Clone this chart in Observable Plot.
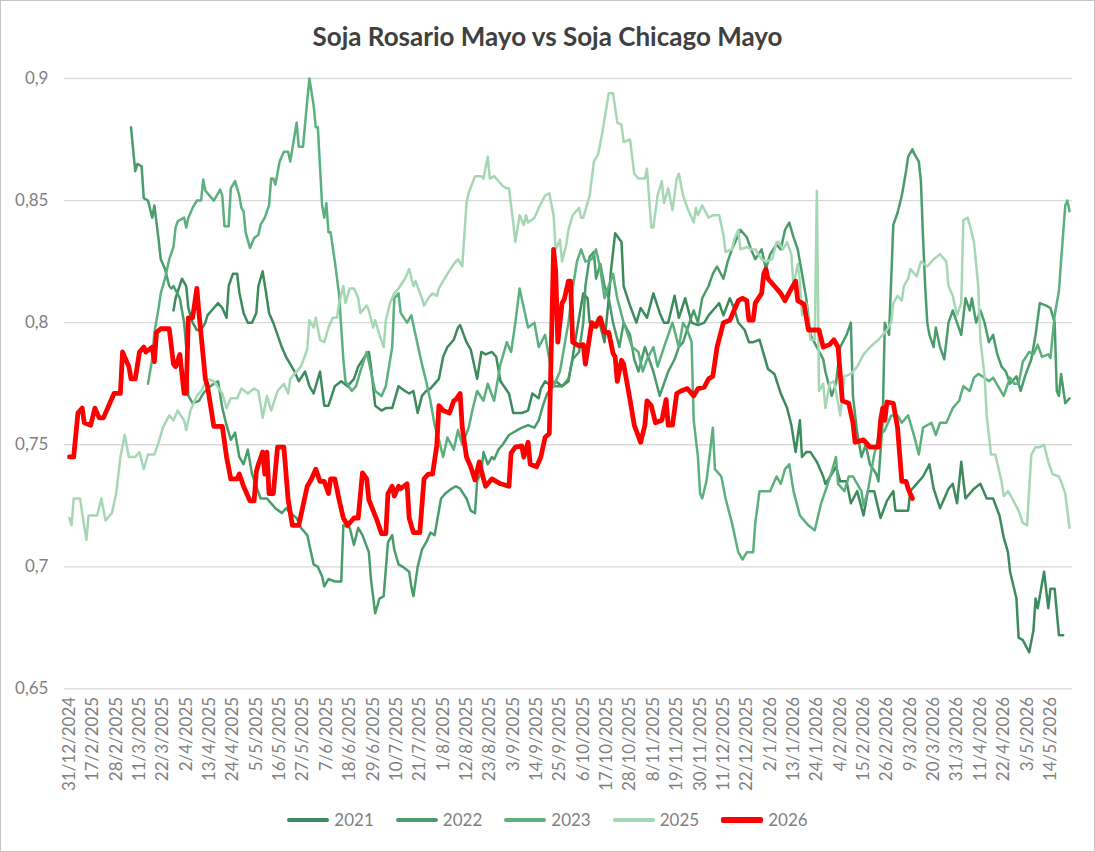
<!DOCTYPE html>
<html>
<head>
<meta charset="utf-8">
<script src="https://cdn.jsdelivr.net/npm/d3@7"></script>
<script src="https://cdn.jsdelivr.net/npm/@observablehq/plot@0.6"></script>
<style>
  html, body { margin: 0; padding: 0; background: #fff; }
  #wrap { position: relative; width: 1095px; height: 852px; box-sizing: border-box; border: 1px solid #c4c4c4; background: #fff; font-family: Lato, "Open Sans", sans-serif; overflow: hidden; }
  #title { position: absolute; top: 19px; left: 0; width: 100%; text-align: center; font-size: 26px; font-weight: bold; color: #404040; }
  #chart { position: absolute; top: 59px; left: -1px; }
  #legend { position: absolute; top: 808px; left: 0; width: 100%; display: flex; justify-content: center; gap: 22px; font-size: 17px; color: #7f7f7f; }
  .item { display: flex; align-items: center; gap: 5px; }
  .sw { width: 42px; height: 4px; border-radius: 2px; }
</style>
</head>
<body>
<div id="wrap">
  <div id="title">Soja Rosario Mayo vs Soja Chicago Mayo</div>
  <div id="chart"></div>
  <div id="legend"></div>
</div>
<script>
// Category-axis labels (one label every 11 categories)
const tickLabels = ["31/12/2024","17/2/2025","28/2/2025","11/3/2025","22/3/2025","2/4/2025","13/4/2025","24/4/2025","5/5/2025","16/5/2025","27/5/2025","7/6/2025","18/6/2025","29/6/2025","10/7/2025","21/7/2025","1/8/2025","12/8/2025","23/8/2025","3/9/2025","14/9/2025","25/9/2025","6/10/2025","17/10/2025","28/10/2025","8/11/2025","19/11/2025","30/11/2025","11/12/2025","22/12/2025","2/1/2026","13/1/2026","24/1/2026","4/2/2026","15/2/2026","26/2/2026","9/3/2026","20/3/2026","31/3/2026","11/4/2026","22/4/2026","3/5/2026","14/5/2026"];
const labelInterval = 11;
const yTicks = [0.65, 0.7, 0.75, 0.8, 0.85, 0.9];
const seriesNames = ["2021", "2022", "2023", "2025", "2026"];

// [category index, ratio]
const s2021 = [[49,0.805],[50,0.810],[53,0.818],[55,0.815],[56,0.806],[58,0.800],[60,0.797],[62,0.797],[64,0.800],[65,0.803],[68,0.806],[70,0.808],[72,0.806],[74,0.802],[75,0.815],[77,0.820],[79,0.820],[80,0.8125],[82,0.804],[84,0.800],[86,0.800],[88,0.804],[89,0.815],[91,0.821],[93,0.810],[94,0.804],[96,0.800],[98,0.795],[100,0.790],[102,0.786],[104,0.783],[106,0.780],[108,0.776],[111,0.780],[113,0.774],[115,0.771],[118,0.780],[120,0.766],[122,0.766],[125,0.774],[128,0.776],[131,0.774],[134,0.777],[136,0.782],[139,0.786],[141,0.788],[142,0.782],[144,0.766],[147,0.764],[149,0.765],[152,0.765],[153,0.768],[155,0.774],[158,0.772],[160,0.771],[162,0.772],[164,0.763],[166,0.770],[168,0.772],[170,0.773],[174,0.777],[176,0.786],[178,0.790],[181,0.793],[183,0.798],[184,0.799],[187,0.792],[189,0.789],[192,0.777],[194,0.788],[196,0.787],[199,0.788],[201,0.786],[203,0.776],[207,0.771],[209,0.763],[213,0.763],[216,0.764],[218,0.771],[221,0.769],[222,0.773],[224,0.776],[227,0.774],[229,0.776],[232,0.774],[235,0.776],[237,0.786],[240,0.802],[242,0.812],[244,0.810],[245,0.800],[247,0.798],[249,0.802],[252,0.792],[254,0.810],[255,0.821],[257,0.8366],[260,0.833],[261,0.815],[264,0.807],[267,0.800],[269,0.806],[272,0.802],[275,0.812],[278,0.804],[280,0.800],[282,0.800],[285,0.811],[287,0.802],[290,0.810],[293,0.800],[296,0.799],[299,0.800],[301,0.803],[304,0.806],[306,0.808],[308,0.803],[311,0.810],[313,0.806],[315,0.800],[318,0.797],[320,0.792],[322,0.792],[325,0.793],[327,0.787],[329,0.781],[332,0.779],[335,0.771],[338,0.765],[340,0.758],[342,0.747],[344,0.760],[345,0.745],[347,0.747],[349,0.747],[352,0.743],[355,0.737],[356,0.734],[359,0.738],[361,0.741],[363,0.735],[366,0.735],[368,0.726],[371,0.731],[374,0.721],[376,0.731],[379,0.731],[382,0.720],[385,0.727],[388,0.731],[389,0.723],[392,0.723],[395,0.723],[396,0.731],[400,0.735],[402,0.737],[405,0.742],[407,0.732],[410,0.724],[414,0.732],[416,0.734],[418,0.726],[420,0.743],[422,0.728],[426,0.732],[429,0.734],[432,0.728],[435,0.728],[438,0.721],[440,0.712],[442,0.706],[443,0.698],[446,0.687],[447,0.671],[449,0.670],[452,0.665],[454,0.674],[455,0.687],[456,0.683],[459,0.698],[461,0.683],[462,0.691],[464,0.691],[466,0.672],[468,0.672]];

const s2022 = [[29,0.880],[31,0.862],[32,0.865],[34,0.864],[35,0.851],[37,0.850],[39,0.843],[40,0.848],[42,0.834],[43,0.826],[45,0.822],[47,0.815],[48,0.814],[49,0.815],[52,0.810],[54,0.800],[55,0.790],[56,0.770],[58,0.767],[61,0.768],[63,0.771],[65,0.773],[68,0.775],[70,0.776],[72,0.765],[74,0.758],[76,0.752],[78,0.755],[80,0.745],[82,0.742],[84,0.748],[86,0.738],[88,0.733],[90,0.728],[93,0.728],[95,0.726],[97,0.724],[100,0.722],[102,0.724],[104,0.722],[107,0.720],[109,0.716],[112,0.713],[114,0.705],[115,0.701],[117,0.700],[119,0.696],[120,0.692],[122,0.695],[125,0.694],[128,0.694],[129,0.717],[132,0.716],[134,0.709],[136,0.716],[138,0.713],[141,0.706],[142,0.695],[144,0.681],[146,0.687],[148,0.688],[150,0.710],[152,0.713],[153,0.707],[155,0.701],[157,0.700],[160,0.698],[161,0.692],[162,0.688],[164,0.700],[166,0.707],[168,0.710],[170,0.714],[172,0.713],[174,0.723],[175,0.728],[177,0.730],[180,0.732],[182,0.733],[184,0.732],[187,0.728],[189,0.723],[191,0.722],[192,0.735],[194,0.739],[195,0.747],[197,0.742],[199,0.745],[200,0.744],[202,0.748],[204,0.750],[207,0.754],[209,0.755],[213,0.757],[216,0.758],[219,0.757],[221,0.760],[223,0.766],[225,0.771],[228,0.774],[232,0.774],[235,0.777],[237,0.785],[240,0.788],[242,0.800],[243,0.815],[245,0.827],[247,0.829],[248,0.818],[250,0.824],[252,0.815],[254,0.810],[256,0.800],[259,0.790],[261,0.800],[264,0.795],[266,0.785],[268,0.780],[271,0.790],[273,0.785],[275,0.780],[278,0.770],[280,0.775],[282,0.780],[285,0.785],[287,0.790],[289,0.792],[292,0.800],[294,0.805],[296,0.800],[298,0.810],[301,0.815],[303,0.820],[305,0.823],[308,0.818],[310,0.825],[312,0.830],[316,0.838],[319,0.835],[321,0.830],[323,0.826],[326,0.830],[328,0.822],[330,0.828],[333,0.832],[335,0.830],[337,0.838],[339,0.841],[341,0.835],[343,0.830],[345,0.820],[347,0.810],[349,0.795],[352,0.790],[355,0.785],[356,0.780],[359,0.770],[361,0.775],[363,0.790],[366,0.795],[368,0.800],[369,0.770],[371,0.755],[373,0.745],[375,0.750],[377,0.742],[380,0.738],[381,0.735],[383,0.760],[384,0.800],[386,0.795],[388,0.840],[390,0.845],[392,0.852],[394,0.862],[395,0.868],[397,0.871],[398,0.869],[400,0.866],[401,0.858],[402,0.835],[403,0.815],[404,0.800],[405,0.795],[407,0.790],[408,0.798],[410,0.790],[412,0.785],[414,0.800],[416,0.805],[418,0.800],[420,0.795],[422,0.810],[424,0.805],[425,0.810],[427,0.800],[429,0.805],[431,0.800],[433,0.792],[435,0.795],[437,0.787],[439,0.782],[441,0.780],[443,0.775],[446,0.778],[448,0.772],[450,0.778],[453,0.785],[455,0.795],[457,0.808],[460,0.807],[462,0.806],[464,0.800],[465,0.772],[466,0.770],[467,0.779],[469,0.767],[470,0.768],[471,0.769]];

const s2023 = [[37,0.775],[39,0.785],[40,0.796],[42,0.806],[43,0.812],[45,0.818],[47,0.826],[49,0.831],[50,0.839],[51,0.8415],[54,0.843],[55,0.839],[56,0.843],[58,0.847],[60,0.850],[62,0.850],[63,0.8586],[64,0.854],[66,0.852],[68,0.850],[71,0.8545],[72,0.852],[73,0.8395],[75,0.8395],[76,0.855],[78,0.858],[80,0.852],[81,0.847],[82,0.8456],[83,0.837],[85,0.8306],[87,0.8347],[89,0.836],[90,0.840],[92,0.843],[94,0.848],[95,0.859],[96,0.859],[97,0.8566],[99,0.866],[101,0.870],[103,0.870],[104,0.866],[107,0.882],[108,0.872],[110,0.872],[112,0.891],[113,0.900],[115,0.889],[116,0.880],[117,0.880],[119,0.848],[120,0.843],[121,0.849],[122,0.837],[123,0.837],[125,0.825],[127,0.8115],[128,0.798],[129,0.785],[130,0.776],[133,0.772],[135,0.774],[137,0.780],[140,0.788],[142,0.780],[144,0.772],[147,0.770],[149,0.774],[152,0.790],[153,0.810],[155,0.812],[156,0.804],[159,0.800],[161,0.803],[163,0.795],[166,0.783],[168,0.776],[170,0.768],[172,0.758],[174,0.752],[176,0.745],[178,0.753],[181,0.748],[183,0.756],[185,0.750],[188,0.757],[190,0.765],[192,0.772],[195,0.768],[197,0.775],[200,0.768],[203,0.783],[206,0.792],[208,0.788],[210,0.800],[212,0.814],[214,0.806],[216,0.798],[219,0.800],[221,0.790],[224,0.795],[226,0.785],[228,0.774],[231,0.780],[233,0.790],[235,0.800],[237,0.814],[239,0.825],[241,0.830],[243,0.825],[246,0.826],[248,0.830],[250,0.822],[252,0.810],[254,0.815],[256,0.820],[258,0.810],[261,0.800],[263,0.795],[265,0.790],[268,0.788],[270,0.780],[272,0.785],[275,0.790],[277,0.782],[280,0.790],[282,0.795],[284,0.800],[287,0.790],[289,0.800],[291,0.797],[293,0.792],[294,0.760],[296,0.745],[297,0.730],[298,0.728],[300,0.735],[301,0.742],[303,0.757],[304,0.740],[307,0.737],[309,0.728],[312,0.718],[314,0.710],[315,0.706],[317,0.703],[319,0.706],[322,0.706],[323,0.718],[325,0.731],[328,0.731],[330,0.731],[333,0.737],[335,0.734],[337,0.740],[339,0.742],[341,0.731],[344,0.721],[348,0.717],[351,0.715],[354,0.726],[356,0.731],[359,0.739],[361,0.745],[362,0.734],[365,0.731],[367,0.737],[369,0.737],[371,0.734],[373,0.731],[374,0.725],[376,0.731],[379,0.746],[381,0.753],[384,0.756],[387,0.762],[390,0.762],[392,0.759],[395,0.762],[398,0.753],[400,0.746],[402,0.757],[406,0.759],[408,0.754],[410,0.759],[413,0.759],[416,0.765],[419,0.768],[421,0.774],[424,0.772],[426,0.7775],[428,0.779],[431,0.7775],[433,0.776],[435,0.7775],[438,0.773],[440,0.770],[443,0.7775],[445,0.775],[447,0.775],[449,0.784],[452,0.788],[454,0.787],[456,0.791],[458,0.786],[461,0.787],[462,0.7855],[464,0.803],[466,0.813],[467,0.825],[469,0.848],[470,0.850],[471,0.8456]];

const s2025 = [[0,0.720],[1,0.717],[2,0.728],[5,0.728],[6,0.722],[8,0.711],[9,0.721],[13,0.721],[15,0.728],[17,0.719],[20,0.722],[22,0.730],[24,0.745],[26,0.754],[28,0.745],[31,0.745],[33,0.747],[35,0.740],[37,0.746],[40,0.746],[42,0.751],[44,0.757],[47,0.762],[49,0.760],[51,0.764],[54,0.760],[55,0.756],[57,0.764],[60,0.770],[62,0.772],[65,0.777],[68,0.776],[72,0.771],[74,0.765],[76,0.769],[79,0.769],[81,0.773],[84,0.771],[87,0.773],[89,0.772],[91,0.761],[93,0.770],[95,0.764],[98,0.772],[101,0.775],[103,0.771],[104,0.777],[106,0.779],[109,0.782],[112,0.789],[113,0.801],[115,0.798],[116,0.802],[118,0.793],[120,0.792],[122,0.798],[124,0.802],[126,0.802],[127,0.808],[129,0.815],[130,0.808],[132,0.814],[134,0.814],[136,0.810],[137,0.804],[140,0.807],[141,0.805],[143,0.798],[144,0.801],[146,0.795],[148,0.790],[149,0.801],[151,0.808],[153,0.812],[155,0.814],[158,0.818],[160,0.822],[162,0.815],[163,0.817],[166,0.810],[167,0.807],[169,0.810],[171,0.812],[173,0.811],[174,0.814],[176,0.817],[178,0.820],[181,0.824],[183,0.826],[185,0.823],[187,0.849],[188,0.853],[191,0.860],[194,0.860],[195,0.859],[197,0.868],[198,0.859],[200,0.860],[202,0.858],[204,0.856],[206,0.855],[207,0.855],[209,0.841],[210,0.833],[212,0.844],[214,0.840],[215,0.844],[216,0.841],[219,0.843],[221,0.847],[224,0.852],[226,0.853],[228,0.844],[229,0.830],[231,0.834],[232,0.825],[234,0.832],[235,0.838],[237,0.844],[240,0.847],[241,0.843],[242,0.843],[245,0.852],[247,0.866],[249,0.869],[251,0.878],[254,0.894],[256,0.894],[258,0.882],[260,0.881],[261,0.874],[264,0.875],[266,0.861],[268,0.859],[271,0.859],[272,0.863],[274,0.839],[275,0.839],[277,0.852],[279,0.858],[280,0.849],[282,0.855],[284,0.846],[286,0.859],[287,0.861],[289,0.852],[291,0.847],[294,0.841],[295,0.847],[296,0.844],[298,0.848],[301,0.843],[303,0.844],[306,0.844],[308,0.836],[309,0.829],[312,0.830],[313,0.834],[315,0.838],[316,0.830],[319,0.831],[321,0.830],[323,0.830],[326,0.826],[328,0.825],[331,0.826],[333,0.833],[334,0.833],[336,0.830],[338,0.833],[340,0.828],[341,0.815],[343,0.824],[344,0.817],[345,0.803],[347,0.808],[349,0.793],[351,0.793],[352,0.854],[353,0.772],[355,0.775],[356,0.765],[358,0.775],[360,0.776],[362,0.767],[363,0.762],[365,0.778],[368,0.779],[371,0.782],[374,0.787],[377,0.790],[381,0.793],[383,0.795],[385,0.797],[387,0.800],[388,0.808],[390,0.811],[392,0.809],[393,0.815],[395,0.818],[396,0.822],[399,0.819],[401,0.825],[404,0.823],[407,0.826],[410,0.828],[413,0.825],[414,0.815],[416,0.811],[418,0.803],[420,0.808],[421,0.842],[423,0.843],[424,0.840],[426,0.833],[428,0.815],[429,0.793],[431,0.778],[432,0.762],[434,0.746],[436,0.746],[439,0.735],[440,0.729],[442,0.731],[444,0.728],[447,0.723],[449,0.718],[451,0.717],[453,0.746],[455,0.749],[457,0.749],[459,0.750],[461,0.743],[463,0.738],[466,0.737],[467,0.735],[469,0.730],[471,0.716]];

const s2026 = [[0,0.745],[2,0.745],[4,0.763],[6,0.765],[7,0.759],[10,0.758],[12,0.765],[14,0.761],[16,0.761],[21,0.771],[24,0.771],[25,0.788],[28,0.782],[29,0.777],[31,0.777],[33,0.788],[35,0.790],[36,0.788],[39,0.790],[40,0.784],[41,0.796],[43,0.7975],[47,0.7975],[49,0.783],[50,0.782],[52,0.787],[54,0.771],[55,0.771],[56,0.802],[58,0.802],[60,0.814],[61,0.804],[63,0.786],[64,0.777],[65,0.774],[68,0.7575],[70,0.7575],[72,0.7575],[74,0.745],[76,0.736],[79,0.736],[80,0.738],[82,0.733],[85,0.727],[87,0.727],[88,0.739],[89,0.742],[91,0.747],[92,0.738],[93,0.747],[94,0.730],[96,0.730],[98,0.749],[101,0.749],[103,0.7275],[105,0.717],[108,0.717],[112,0.733],[114,0.736],[116,0.740],[118,0.735],[120,0.735],[122,0.730],[123,0.736],[125,0.736],[127,0.7275],[129,0.720],[131,0.717],[134,0.720],[136,0.720],[138,0.7385],[140,0.736],[141,0.7275],[145,0.7187],[147,0.7136],[149,0.7136],[150,0.730],[152,0.733],[153,0.729],[155,0.733],[156,0.732],[159,0.734],[160,0.720],[162,0.714],[165,0.714],[167,0.736],[169,0.738],[171,0.738],[173,0.7496],[174,0.766],[176,0.764],[179,0.763],[181,0.768],[182,0.7685],[184,0.771],[185,0.757],[187,0.745],[189,0.741],[191,0.7356],[193,0.743],[195,0.736],[196,0.733],[199,0.736],[201,0.735],[203,0.734],[207,0.733],[208,0.7466],[210,0.749],[213,0.7495],[214,0.745],[216,0.751],[217,0.742],[220,0.741],[222,0.745],[224,0.753],[226,0.7546],[228,0.830],[229,0.821],[230,0.792],[232,0.808],[233,0.8095],[235,0.817],[236,0.817],[237,0.792],[240,0.7905],[242,0.791],[243,0.783],[246,0.800],[248,0.7985],[250,0.802],[252,0.796],[254,0.796],[256,0.7875],[257,0.786],[258,0.776],[260,0.7846],[261,0.783],[264,0.7685],[266,0.758],[269,0.751],[271,0.758],[272,0.768],[274,0.766],[276,0.759],[279,0.760],[281,0.7685],[282,0.758],[284,0.758],[286,0.771],[288,0.772],[291,0.773],[294,0.770],[296,0.773],[299,0.7736],[301,0.777],[303,0.778],[305,0.790],[308,0.800],[311,0.801],[315,0.809],[317,0.810],[319,0.809],[320,0.801],[322,0.801],[323,0.808],[326,0.812],[327,0.820],[328,0.822],[329,0.818],[332,0.815],[335,0.812],[337,0.809],[340,0.814],[342,0.817],[343,0.809],[346,0.8075],[348,0.797],[351,0.797],[353,0.797],[355,0.790],[358,0.791],[360,0.793],[362,0.790],[364,0.768],[367,0.767],[369,0.759],[370,0.751],[374,0.752],[377,0.749],[381,0.749],[382,0.760],[383,0.765],[384,0.760],[385,0.7675],[388,0.767],[390,0.757],[392,0.735],[394,0.735],[395,0.732],[397,0.728]];

const seriesColors = ["#3d8a5c", "#4a9d6b", "#5bb07e", "#a6d7b5", "#ff0000"];
const seriesWidths = [2.5, 2.5, 2.5, 2.5, 4.8];
const seriesData = [s2021, s2022, s2023, s2025, s2026];

const rows = (pts) => pts.map(([i, v]) => ({i, v}));
const tickPositions = tickLabels.map((_, k) => k * labelInterval);
const fmt = d => String(+d.toFixed(2)).replace(".", ",");

const lineMarks = seriesData.map((pts, k) =>
  Plot.line(rows(pts), {x: "i", y: "v", stroke: seriesColors[k], strokeWidth: seriesWidths[k], strokeLinejoin: "round", strokeLinecap: "round"})
);

const chart = Plot.plot({
  width: 1095,
  height: 742,
  marginTop: 18,
  marginBottom: 113,
  marginLeft: 64,
  marginRight: 22,
  x: {domain: [-2.35, 472.4]},
  y: {domain: [0.65, 0.9]},
  style: {fontFamily: "Lato, 'Open Sans', sans-serif", fontSize: "17px", color: "#7f7f7f", background: "transparent"},
  marks: [
    Plot.ruleY(yTicks, {stroke: "#d9d9d9", strokeWidth: 1.3}),
    Plot.axisY(yTicks, {tickSize: 0, tickPadding: 16, tickFormat: fmt, label: null, fontSize: 17}),
    Plot.axisX(tickPositions, {tickSize: 0, tickRotate: -90, tickPadding: 8, tickFormat: d => tickLabels[d / labelInterval], label: null, fontSize: 17}),
    ...lineMarks
  ]
});
document.getElementById("chart").appendChild(chart);

const legend = document.getElementById("legend");
seriesNames.forEach((name, k) => {
  const it = document.createElement("div");
  it.className = "item";
  const sw = document.createElement("div");
  sw.className = "sw";
  sw.style.background = seriesColors[k];
  if (k === 4) sw.style.height = "6px";
  const tx = document.createElement("span");
  tx.textContent = name;
  it.appendChild(sw); it.appendChild(tx);
  legend.appendChild(it);
});
</script>
</body>
</html>
